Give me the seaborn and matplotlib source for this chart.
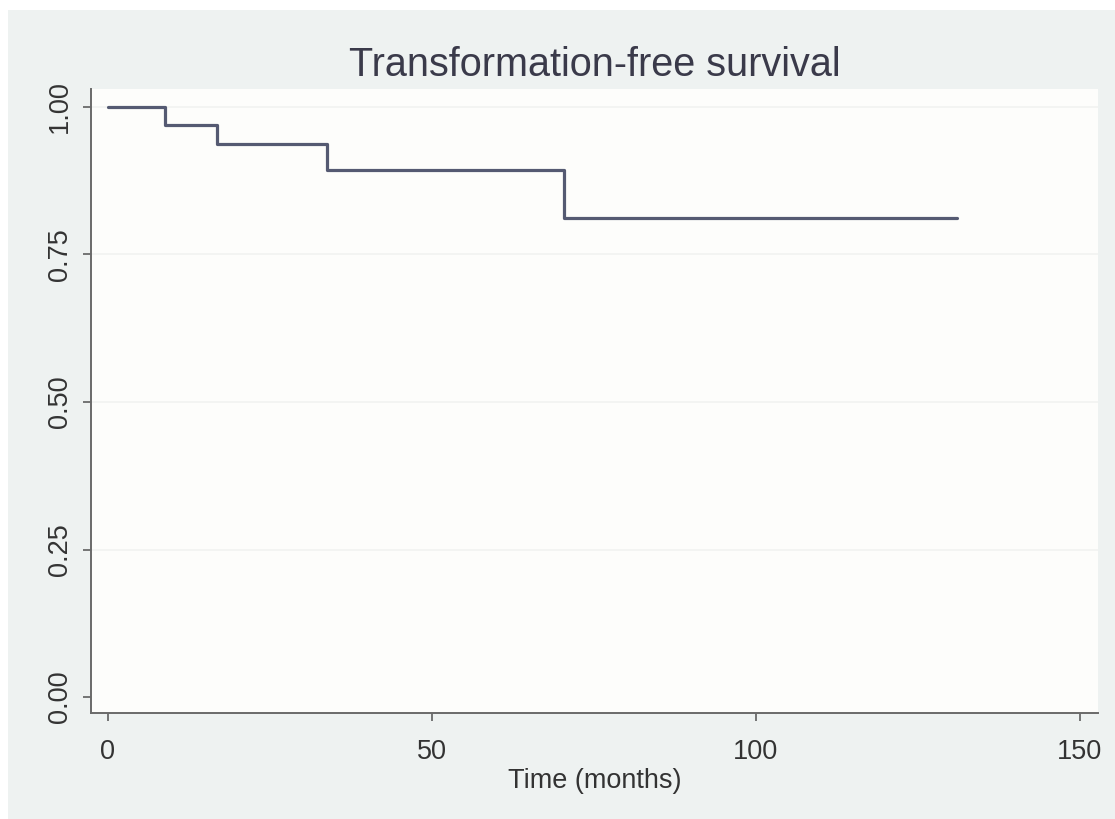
import matplotlib
matplotlib.use("Agg")
import matplotlib.pyplot as plt
from matplotlib.patches import Rectangle
import pandas as pd
import seaborn as sns

# Kaplan-Meier estimate: event times (months) and survival probability after each step
time_months = [0, 8.9, 16.8, 33.8, 70.4, 131.0]
survival = [1.000, 0.969, 0.938, 0.893, 0.812, 0.812]

x_ticks = [0, 50, 100, 150]
y_ticks = [0.00, 0.25, 0.50, 0.75, 1.00]
y_tick_labels = ["0.00", "0.25", "0.50", "0.75", "1.00"]

title = "Transformation-free survival"
x_label = "Time (months)"

sns.set_theme(style="white")
plt.rcParams["font.family"] = ["Liberation Sans", "DejaVu Sans"]

W, H = 1115, 819
fig = plt.figure(figsize=(W / 100, H / 100), dpi=100)
fig.patch.set_facecolor("white")

# Graph region background, kept behind the axes
fig.patches.append(Rectangle((8 / W, 0), 1 - 8 / W, 1 - 10 / H,
                             transform=fig.transFigure, facecolor="#eef2f1",
                             edgecolor="none", zorder=-10))

ax = fig.add_axes([91 / W, 1 - 713 / H, (1098 - 91) / W, (713 - 89) / H])
ax.set_zorder(1)
ax.set_facecolor("#fdfdfb")

df = pd.DataFrame({"time": time_months, "survival": survival})
sns.lineplot(data=df, x="time", y="survival", ax=ax, estimator=None,
             drawstyle="steps-post", color="#555a72", linewidth=2.3)

ax.set_xlim(-2.58, 152.8)
ax.set_ylim(-0.0271, 1.0305)

ax.set_xticks(x_ticks)
ax.set_xticklabels([str(t) for t in x_ticks], fontsize=19.5, color="#333333")
ax.set_yticks(y_ticks)
ax.set_yticklabels(y_tick_labels, fontsize=19.5, color="#333333",
                   rotation=90, va="center")

for y in y_ticks[1:]:
    ax.axhline(y, color="#f2f3f1", linewidth=1.2, zorder=0)

for side in ["top", "right"]:
    ax.spines[side].set_visible(False)
for side in ["left", "bottom"]:
    ax.spines[side].set_color("#6a6a6a")
    ax.spines[side].set_linewidth(1.4)

ax.tick_params(axis="x", direction="out", length=6, width=1.3,
               color="#6a6a6a", pad=13, bottom=True)
ax.tick_params(axis="y", direction="out", length=6, width=1.3,
               color="#6a6a6a", pad=7, left=True)

ax.set_xlabel(x_label, fontsize=19.5, color="#333333", labelpad=2)
ax.set_ylabel("")
fig.text(594.5 / W, 1 - 65 / H, title, fontsize=28.5, color="#3a3a4a",
         ha="center", va="center")

fig.savefig("out.png", dpi=100, facecolor=fig.get_facecolor())
